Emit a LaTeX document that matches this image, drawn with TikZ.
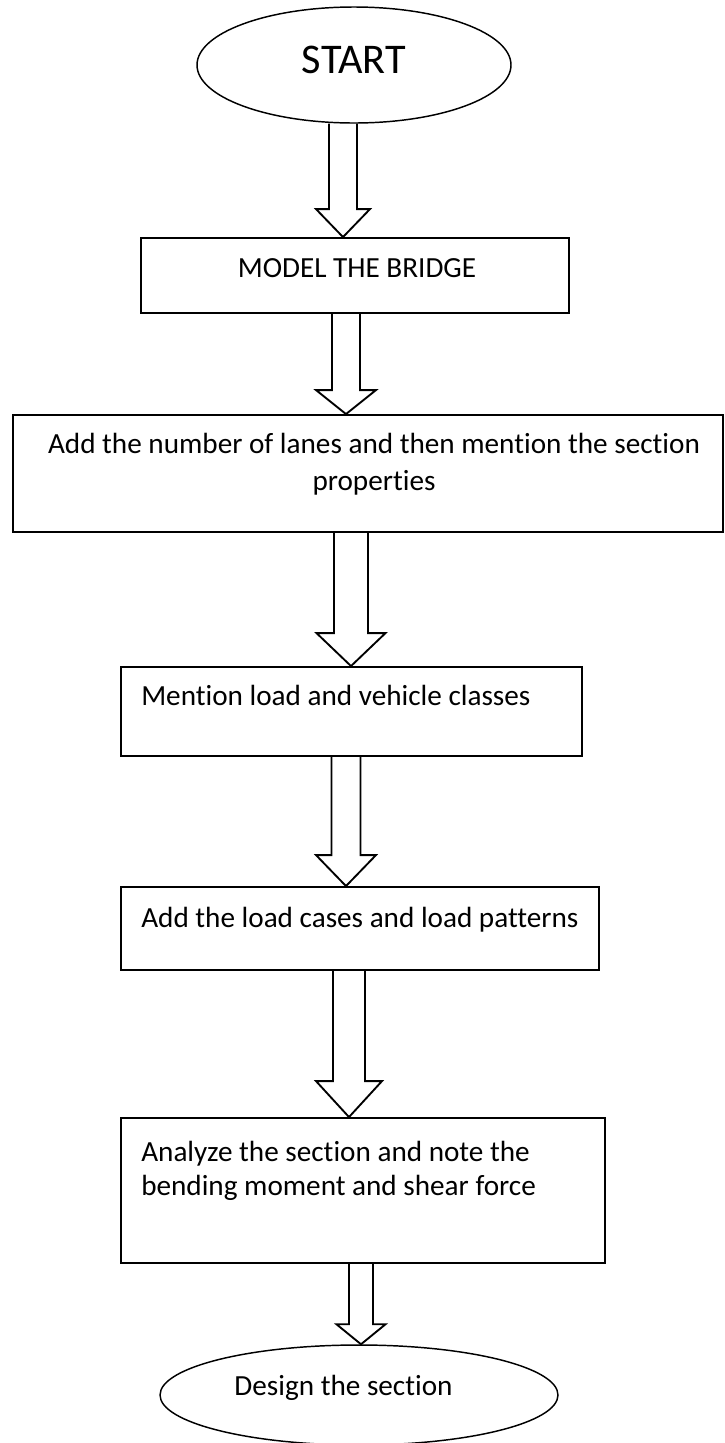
\documentclass[tikz,border=0pt]{standalone}
\usepackage{fontspec}
\setmainfont{Carlito}[Ligatures=NoCommon]
\usetikzlibrary{shapes.geometric,calc,fit}
\tikzset{
	stepbox/.style={draw, line width=1.4pt, inner sep=0pt},
	oval/.style={draw, ellipse, line width=1.1pt, inner sep=0pt},
	txt/.style={font=\fontsize{21.9}{27}\selectfont, inner sep=0pt, anchor=base},
	hollow/.style={line width=1.4pt, line join=miter},
}
% #1 from, #2 to, #3 tip x, #4 shaft half width, #5 head half width, #6 head length
\newcommand{\blockarrow}[6]{%
	\path (#3,0) coordinate (tx);
	\coordinate (tip) at (#2.north -| tx);
	\draw[hollow] ($(tip |- #1.south)+(-#4,0)$) -- ($(tip)+(-#4,-#6)$) -- ($(tip)+(-#5,-#6)$) -- (tip)
		-- ($(tip)+(#5,-#6)$) -- ($(tip)+(#4,-#6)$) -- ($(tip |- #1.south)+(#4,0)$);
}
\begin{document}
\begin{tikzpicture}[x=0.75pt,y=-0.75pt]
		\useasboundingbox (0,0) rectangle (725,1443);
		\node[oval, minimum width=235.5pt, minimum height=87pt] (start) at (354,65) {};
		\node[txt, font=\fontsize{31.7}{38}\selectfont] (startlbl) at (354,73) {START};
		
		\node[stepbox, fit={(141,238) (569,313)}] (model) {};
		\node[txt] (modellbl) at (357,277) {MODEL THE BRIDGE};
		
		\node[stepbox, fit={(13,415) (723,532)}] (lanes) {};
		\node[txt] (laneslbl) at (374,453) {Add the number of lanes and then mention the section};
		\node[txt] (laneslblb) at (374,490) {properties};
		
		\node[stepbox, fit={(121,667) (582,756)}] (loads) {};
		\node[txt, anchor=base west] (loadslbl) at (141,705) {Mention load and vehicle classes};
		
		\node[stepbox, fit={(121,887) (599,970)}] (cases) {};
		\node[txt, anchor=base west] (caseslbl) at (141,927) {Add the load cases and load patterns};
		
		\node[stepbox, fit={(121,1118) (605,1263)}] (analyse) {};
		\node[txt, anchor=base west] (analyselbl) at (141,1161) {Analyze the section and note the};
		\node[txt, anchor=base west] (analyselblb) at (141,1195) {bending moment and shear force};
		
		\node[oval, minimum width=298.5pt, minimum height=75pt] (design) at (359,1395) {};
		\node[txt] (designlbl) at (343.5,1395) {Design the section};
		
		\blockarrow{start}{model}{343}{14}{27}{28}
		\blockarrow{model}{lanes}{346}{14}{30}{24}
		\blockarrow{lanes}{loads}{351}{17}{34.5}{33}
		\blockarrow{loads}{cases}{346}{14.5}{30}{31}
		\blockarrow{cases}{analyse}{349}{16}{33}{36}
		\blockarrow{analyse}{design}{361}{12}{24.5}{20}
\end{tikzpicture}
\end{document}
